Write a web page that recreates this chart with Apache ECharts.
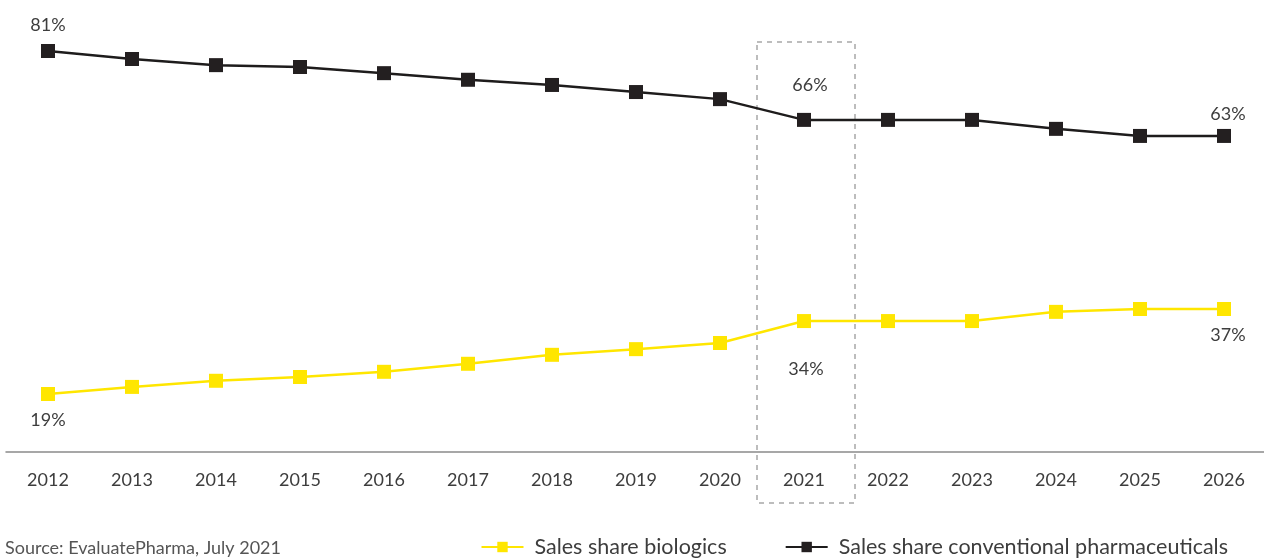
<!DOCTYPE html>
<html>
<head>
<meta charset="utf-8">
<script src="https://cdn.jsdelivr.net/npm/echarts@6/dist/echarts.min.js"></script>
<style>html,body{margin:0;padding:0;background:#fff;}#c{width:1264px;height:560px;}</style>
</head>
<body>
<div id="c"></div>
<script>
const years = ['2012','2013','2014','2015','2016','2017','2018','2019','2020','2021','2022','2023','2024','2025','2026'];
const conventional = [81.0, 79.3, 78.0, 77.6, 76.3, 74.9, 73.8, 72.3, 70.8, 66.4, 66.4, 66.4, 64.5, 63.0, 63.0];
const biologics = [19.0, 20.5, 21.8, 22.6, 23.7, 25.4, 27.3, 28.5, 29.8, 34.45, 34.45, 34.45, 36.4, 37.0, 37.0];
const labelledYears = ['2012', '2021', '2026'];
const highlightYear = '2021';
const seriesNames = ['Sales share biologics', 'Sales share conventional pharmaceuticals'];
const sourceText = 'Source: EvaluatePharma, July 2021';

const FONT = 'Lato, "Open Sans", sans-serif';
const TXT = '#3d3d3d';

// label placement per labelled year (style only)
const convLabelStyle = {
  '2012': {position: 'top', distance: 10, offset: [0, 0]},
  '2021': {position: 'top', distance: 19, offset: [6, 0]},
  '2026': {position: 'top', distance: 6, offset: [4, 0]}
};
const bioLabelStyle = {
  '2012': {position: 'bottom', distance: 10, offset: [0, 0]},
  '2021': {position: 'bottom', distance: 32, offset: [2, 0]},
  '2026': {position: 'bottom', distance: 10, offset: [4, 0]}
};

function build(values, styles) {
  return values.map((v, i) => {
    const y = years[i];
    if (labelledYears.includes(y)) {
      const s = styles[y];
      return {value: v, label: {show: true, position: s.position, distance: s.distance, offset: s.offset}};
    }
    return {value: v};
  });
}

const chart = echarts.init(document.getElementById('c'), null, {renderer: 'canvas'});
const labelCommon = {
  formatter: p => Math.round(p.value) + '%',
  fontFamily: FONT, fontSize: 18, color: TXT
};

chart.setOption({
  animation: false,
  backgroundColor: '#fff',
  title: {
    text: sourceText, left: 0, bottom: -2,
    textStyle: {fontFamily: FONT, fontSize: 18, fontWeight: 'normal', color: '#555'}
  },
  legend: {
    right: 31, bottom: -3,
    itemWidth: 42, itemHeight: 13, itemGap: 58,
    textStyle: {fontFamily: FONT, fontSize: 21.5, color: TXT, padding: [0, 0, 0, 6]},
    data: seriesNames
  },
  grid: {left: 6, right: -2, top: 0, bottom: 108, outerBoundsMode: 'none', containLabel: false},
  xAxis: {
    type: 'category', data: years, boundaryGap: true,
    axisLine: {onZero: false, lineStyle: {color: '#8a8a8a', width: 1.5}},
    axisTick: {show: false},
    axisLabel: {fontFamily: FONT, fontSize: 18, color: TXT, margin: 19}
  },
  yAxis: [
    {type: 'value', min: 6.71, max: 102.47, show: false, splitLine: {show: false}},
    {type: 'value', min: -3.96, max: 91.8, show: false, splitLine: {show: false}}
  ],
  series: [
    {
      name: seriesNames[0], type: 'line', yAxisIndex: 0,
      data: build(biologics, bioLabelStyle),
      symbol: 'rect', symbolSize: 14,
      lineStyle: {color: '#ffe600', width: 2.5},
      itemStyle: {color: '#ffe600'},
      label: labelCommon
    },
    {
      name: seriesNames[1], type: 'line', yAxisIndex: 1,
      data: build(conventional, convLabelStyle),
      symbol: 'rect', symbolSize: 14,
      lineStyle: {color: '#1e1c1c', width: 2.5},
      itemStyle: {color: '#231f20'},
      label: labelCommon
    }
  ]
});

const cx = chart.convertToPixel({xAxisIndex: 0}, highlightYear);
chart.setOption({
  graphic: [{
    type: 'rect', silent: true, z: 0,
    shape: {x: cx - 47, y: 42, width: 98, height: 461},
    style: {fill: 'none', stroke: '#a8a8a8', lineWidth: 1.5, lineDash: [5, 5]}
  }]
});
</script>
</body>
</html>
